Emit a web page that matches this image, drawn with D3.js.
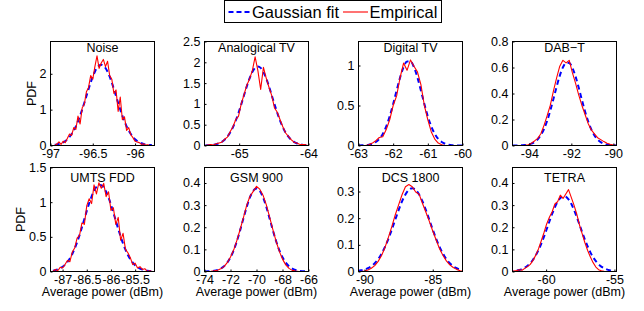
<!DOCTYPE html>
<html>
<head>
<meta charset="utf-8">
<script src="https://cdn.jsdelivr.net/npm/d3@7"></script>
<style>
  body { margin: 0; background: #fff; }
  svg { display: block; font-family: "Liberation Sans", Arial, Helvetica, sans-serif; }
</style>
</head>
<body>
<div id="chart"></div>
<script>
// panel titles, in reading order
const titles = ["Noise", "Analogical TV", "Digital TV", "DAB\u2212T", "UMTS FDD", "GSM 900", "DCS 1800", "TETRA"];

// axis limits and ticks
const xDomains = [[-97, -95.77], [-65.5, -64], [-63, -60], [-94.8, -89.85],
                  [-87.25, -85.1], [-74, -66], [-90.44, -82.82], [-62.46, -54.85]];
const yDomains = [[0, 2.9], [0, 2.5], [0, 1.3], [0, 0.8], [0, 1.5], [0, 0.47], [0, 0.39], [0, 0.47]];
const xTicks = [[-97, -96.5, -96], [-65, -64], [-63, -62, -61, -60], [-94, -92, -90],
                [-87, -86.5, -86, -85.5], [-74, -72, -70, -68, -66], [-90, -85], [-60, -55]];
const yTicks = [[0, 1, 2], [0, 0.5, 1, 1.5, 2, 2.5], [0, 0.5, 1], [0, 0.2, 0.4, 0.6, 0.8],
                [0, 0.5, 1, 1.5], [0, 0.1, 0.2, 0.3, 0.4], [0, 0.1, 0.2, 0.3], [0, 0.1, 0.2, 0.3, 0.4]];

// Noise
const noiseX = [-96.95,-96.925,-96.9,-96.875,-96.85,-96.825,-96.8,-96.775,-96.75,-96.725,-96.7,-96.675,-96.65,-96.625,-96.6,-96.575,-96.55,-96.525,-96.5,-96.475,-96.45,-96.425,-96.4,-96.375,-96.35,-96.325,-96.3,-96.275,-96.25,-96.225,-96.2,-96.175,-96.15,-96.125,-96.1,-96.075,-96.05,-96.025,-96,-95.975,-95.95,-95.925,-95.9,-95.875,-95.85,-95.825,-95.8];
const noiseFit = [0.018,0.028,0.042,0.062,0.089,0.126,0.175,0.239,0.319,0.417,0.535,0.673,0.83,1.003,1.189,1.381,1.571,1.754,1.918,2.057,2.162,2.228,2.25,2.228,2.162,2.057,1.918,1.754,1.571,1.381,1.189,1.003,0.83,0.673,0.535,0.417,0.319,0.239,0.175,0.126,0.089,0.062,0.042,0.028,0.018,0.012,0.007];
const noiseEmp = [0,0.04,0.1,0.03,0.12,0.08,0.2,0.32,0.28,0.5,0.45,0.82,0.6,1.05,1.15,1.5,1.62,1.95,1.85,2.2,2.5,2.15,2.3,2.4,2.2,2.35,1.95,1.85,1.45,1.55,0.95,1.35,0.72,0.8,0.42,0.5,0.3,0.22,0.12,0.1,0.08,0.03,0.05,0.01,0.02,0,0];

// Analogical TV
const anaX = [-65.49,-65.45,-65.41,-65.37,-65.33,-65.29,-65.25,-65.21,-65.17,-65.13,-65.09,-65.05,-65.01,-64.97,-64.93,-64.89,-64.85,-64.81,-64.77,-64.73,-64.69,-64.65,-64.61,-64.57,-64.53,-64.49,-64.45,-64.41,-64.37,-64.33,-64.29,-64.25,-64.21,-64.17,-64.13,-64.09,-64.05,-64.01];
const anaFit = [0.003,0.005,0.01,0.018,0.032,0.054,0.089,0.139,0.212,0.31,0.437,0.595,0.781,0.989,1.207,1.421,1.614,1.767,1.866,1.9,1.866,1.767,1.614,1.421,1.207,0.989,0.781,0.595,0.437,0.31,0.212,0.139,0.089,0.054,0.032,0.018,0.01,0.005];
const anaEmp = [0,0.01,0.02,0.01,0.04,0.06,0.08,0.15,0.2,0.33,0.45,0.62,0.7,1.0,1.22,1.45,1.6,1.8,2.13,1.8,1.35,1.88,1.62,1.4,1.2,0.9,0.8,0.62,0.45,0.3,0.22,0.14,0.08,0.06,0.03,0.02,0.02,0];

// Digital TV
const digX = [-63,-62.9,-62.8,-62.7,-62.6,-62.5,-62.4,-62.3,-62.2,-62.1,-62,-61.9,-61.8,-61.7,-61.6,-61.5,-61.4,-61.3,-61.2,-61.1,-61,-60.9,-60.8,-60.7,-60.6,-60.5,-60.4,-60.3,-60.2,-60.1,-60];
const digFit = [0.001,0.002,0.004,0.01,0.022,0.044,0.082,0.145,0.238,0.364,0.518,0.687,0.85,0.979,1.051,1.051,0.979,0.85,0.687,0.518,0.364,0.238,0.145,0.082,0.044,0.022,0.01,0.004,0.002,0.001,0.001];
const digEmp = [0,0,0,0.01,0.03,0.06,0.1,0.11,0.2,0.32,0.5,0.62,0.85,1.03,0.94,1.07,0.99,0.92,0.76,0.5,0.32,0.17,0.08,0.03,0.01,0,0,0,0,0,0];

// DAB-T
const dabX = [-94.8,-94.65,-94.5,-94.35,-94.2,-94.05,-93.9,-93.75,-93.6,-93.45,-93.3,-93.15,-93,-92.85,-92.7,-92.55,-92.4,-92.25,-92.1,-91.95,-91.8,-91.65,-91.5,-91.35,-91.2,-91.05,-90.9,-90.75,-90.6,-90.45,-90.3,-90.15,-90,-89.85];
const dabFit = [0.0001,0.0002,0.0006,0.0015,0.0033,0.0071,0.0142,0.0267,0.0477,0.0801,0.127,0.19,0.269,0.359,0.452,0.537,0.601,0.636,0.635,0.598,0.531,0.446,0.353,0.264,0.186,0.124,0.0776,0.046,0.0257,0.0135,0.0067,0.0032,0.0014,0.0006];
const dabEmp = [0,0,0,0,0.002,0.006,0.018,0.035,0.055,0.09,0.155,0.23,0.31,0.42,0.52,0.61,0.655,0.635,0.655,0.56,0.48,0.39,0.31,0.24,0.17,0.12,0.09,0.06,0.045,0.03,0.018,0.01,0.004,0];

// UMTS FDD
const umtsX = [-87.2,-87.15,-87.1,-87.05,-87,-86.95,-86.9,-86.85,-86.8,-86.75,-86.7,-86.65,-86.6,-86.55,-86.5,-86.45,-86.4,-86.35,-86.3,-86.25,-86.2,-86.15,-86.1,-86.05,-86,-85.95,-85.9,-85.85,-85.8,-85.75,-85.7,-85.65,-85.6,-85.55,-85.5,-85.45,-85.4,-85.35,-85.3,-85.25,-85.2,-85.15];
const umtsFit = [0.0123,0.0195,0.0303,0.0459,0.0679,0.0979,0.138,0.189,0.253,0.331,0.422,0.525,0.638,0.756,0.874,0.986,1.085,1.165,1.22,1.248,1.245,1.211,1.15,1.066,0.964,0.85,0.732,0.615,0.504,0.403,0.314,0.239,0.178,0.129,0.091,0.063,0.042,0.028,0.018,0.011,0.007,0.004];
const umtsEmp = [0,0.03,0.01,0.06,0.05,0.1,0.16,0.14,0.28,0.34,0.48,0.52,0.7,0.68,0.95,1.05,0.98,1.25,1.12,1.28,1.2,1.27,1.08,1.15,0.88,0.92,0.68,0.78,0.45,0.55,0.32,0.27,0.2,0.1,0.12,0.05,0.07,0.03,0.04,0,0.01,0];

// GSM 900
const gsmX = [-74,-73.75,-73.5,-73.25,-73,-72.75,-72.5,-72.25,-72,-71.75,-71.5,-71.25,-71,-70.75,-70.5,-70.25,-70,-69.75,-69.5,-69.25,-69,-68.75,-68.5,-68.25,-68,-67.75,-67.5,-67.25,-67,-66.75,-66.5,-66.25,-66];
const gsmFit = [0.0003,0.0008,0.0017,0.0035,0.007,0.0133,0.0237,0.0401,0.0641,0.0969,0.1388,0.1881,0.2411,0.2925,0.3358,0.3648,0.375,0.3648,0.3358,0.2925,0.2411,0.1881,0.1388,0.0969,0.0641,0.0401,0.0237,0.0133,0.007,0.0035,0.0017,0.0008,0.0003];
const gsmEmp = [0,0,0.001,0.003,0.006,0.012,0.022,0.04,0.066,0.098,0.142,0.192,0.245,0.3,0.34,0.362,0.385,0.372,0.345,0.302,0.248,0.192,0.138,0.092,0.056,0.03,0.014,0.005,0.002,0,0,0,0];

// DCS 1800
const dcsX = [-90.5,-90.25,-90,-89.75,-89.5,-89.25,-89,-88.75,-88.5,-88.25,-88,-87.75,-87.5,-87.25,-87,-86.75,-86.5,-86.25,-86,-85.75,-85.5,-85.25,-85,-84.75,-84.5,-84.25,-84,-83.75,-83.5,-83.25,-83,-82.75];
const dcsFit = [0.0024,0.0043,0.0074,0.0124,0.02,0.031,0.0463,0.0666,0.0921,0.1226,0.157,0.1937,0.2299,0.2628,0.2891,0.3061,0.312,0.3061,0.2891,0.2628,0.2299,0.1937,0.157,0.1226,0.0921,0.0666,0.0463,0.031,0.02,0.0124,0.0074,0.0043];
const dcsEmp = [0,0,0.002,0.006,0.012,0.022,0.038,0.06,0.09,0.128,0.168,0.212,0.25,0.288,0.318,0.326,0.318,0.298,0.29,0.255,0.222,0.188,0.152,0.118,0.085,0.06,0.04,0.025,0.015,0.008,0.003,0];

// TETRA
const tetraX = [-62.76,-62.56,-62.36,-62.16,-61.96,-61.76,-61.56,-61.36,-61.16,-60.96,-60.76,-60.56,-60.36,-60.16,-59.96,-59.76,-59.56,-59.36,-59.16,-58.96,-58.76,-58.56,-58.36,-58.16,-57.96,-57.76,-57.56,-57.36,-57.16,-56.96,-56.76,-56.56,-56.36,-56.16,-55.96,-55.76,-55.56,-55.36,-55.16];
const tetraFit = [0.0009,0.0015,0.0026,0.0044,0.0071,0.0113,0.0174,0.026,0.0377,0.0531,0.0727,0.0967,0.1249,0.1567,0.1909,0.226,0.2599,0.2902,0.3149,0.3317,0.3396,0.3376,0.326,0.3058,0.2787,0.2466,0.212,0.177,0.1436,0.1132,0.0866,0.0644,0.0465,0.0326,0.0222,0.0147,0.0095,0.0059,0.0036];
const tetraEmp = [0,0,0.002,0.004,0.008,0.006,0.014,0.022,0.032,0.05,0.074,0.102,0.138,0.175,0.215,0.245,0.27,0.305,0.315,0.345,0.33,0.35,0.37,0.335,0.3,0.26,0.21,0.17,0.13,0.095,0.065,0.04,0.02,0.008,0.003,0.001,0,0,0];

const xs = [noiseX, anaX, digX, dabX, umtsX, gsmX, dcsX, tetraX];
const fits = [noiseFit, anaFit, digFit, dabFit, umtsFit, gsmFit, dcsFit, tetraFit];
const emps = [noiseEmp, anaEmp, digEmp, dabEmp, umtsEmp, gsmEmp, dcsEmp, tetraEmp];

// layout
const W = 644, H = 311;
const colLeft = [50.5, 204.5, 358.5, 512.5];
const rowTop = [41.5, 167.5];
const pw = 104, ph = 104;
const titleBase = [51.5, 181.5];
const fontSize = 12.5;

const svg = d3.select("#chart").append("svg")
    .attr("width", W)
    .attr("height", H);

svg.append("rect").attr("width", W).attr("height", H).attr("fill", "#fff");

const fmt = v => String(v);

titles.forEach((title, p) => {
    const col = p % 4, row = Math.floor(p / 4);
    const g = svg.append("g")
        .attr("transform", `translate(${colLeft[col]},${rowTop[row]})`);

    const x = d3.scaleLinear().domain(xDomains[p]).range([0, pw]);
    const y = d3.scaleLinear().domain(yDomains[p]).range([ph, 0]);

    // clip curves to the box
    g.append("clipPath").attr("id", "clip" + p)
        .append("rect").attr("width", pw).attr("height", ph);

    const pts = (ys) => xs[p].map((xv, i) => [xv, ys[i]]);

    const fitLine = d3.line()
        .x(d => x(d[0]))
        .y(d => y(d[1]))
        .curve(d3.curveMonotoneX);
    const empLine = d3.line()
        .x(d => x(d[0]))
        .y(d => y(d[1]));

    const curves = g.append("g").attr("clip-path", `url(#clip${p})`);
    curves.append("path")
        .attr("d", fitLine(pts(fits[p])))
        .attr("fill", "none")
        .attr("stroke", "#0000ff")
        .attr("stroke-width", 2)
        .attr("stroke-dasharray", "5,3.5");
    curves.append("path")
        .attr("d", empLine(pts(emps[p])))
        .attr("fill", "none")
        .attr("stroke", "#ff0000")
        .attr("stroke-width", 1.1)
        .attr("stroke-linejoin", "round");

    // axes
    const ax = g.append("g")
        .attr("transform", `translate(0,${ph})`)
        .call(d3.axisBottom(x).tickValues(xTicks[p]).tickFormat(fmt)
            .tickSizeInner(-2).tickSizeOuter(0).tickPadding(4));
    const ay = g.append("g")
        .call(d3.axisLeft(y).tickValues(yTicks[p]).tickFormat(fmt)
            .tickSizeInner(-2).tickSizeOuter(0).tickPadding(4));
    [ax, ay].forEach(a => {
        a.select(".domain").remove();
        a.selectAll("text").attr("fill", "#000")
            .style("font-size", fontSize + "px")
            .style("font-family", "\"Liberation Sans\", Arial, sans-serif");
        a.selectAll("line").attr("stroke", "#000");
    });

    // box
    g.append("rect")
        .attr("width", pw).attr("height", ph)
        .attr("fill", "none").attr("stroke", "#000").attr("stroke-width", 1);

    // title inside the box
    svg.append("text")
        .attr("x", colLeft[col] + pw / 2)
        .attr("y", titleBase[row])
        .attr("text-anchor", "middle")
        .style("font-size", fontSize + "px")
        .text(title);

    if (row === 1) {
        svg.append("text")
            .attr("x", colLeft[col] + pw / 2)
            .attr("y", 296)
            .attr("text-anchor", "middle")
            .style("font-size", fontSize + "px")
            .text("Average power (dBm)");
    }
});

// y labels
[[36, rowTop[0] + ph / 2], [24.5, rowTop[1] + ph / 2]].forEach(([lx, ly]) => {
    svg.append("text")
        .attr("transform", `translate(${lx},${ly}) rotate(-90)`)
        .attr("text-anchor", "middle")
        .style("font-size", fontSize + "px")
        .text("PDF");
});

// legend
const leg = svg.append("g");
leg.append("rect")
    .attr("x", 224.5).attr("y", 0.5).attr("width", 217).attr("height", 22)
    .attr("fill", "#fff").attr("stroke", "#000").attr("stroke-width", 1);
leg.append("line")
    .attr("x1", 228.5).attr("x2", 250.5).attr("y1", 12).attr("y2", 12)
    .attr("stroke", "#0000ff").attr("stroke-width", 2).attr("stroke-dasharray", "5,3");
leg.append("text")
    .attr("x", 252).attr("y", 17.5)
    .style("font-size", "16.5px")
    .text("Gaussian fit");
leg.append("line")
    .attr("x1", 343).attr("x2", 368).attr("y1", 12).attr("y2", 12)
    .attr("stroke", "#ff0000").attr("stroke-width", 1.1);
leg.append("text")
    .attr("x", 369.5).attr("y", 17.5)
    .style("font-size", "16.5px")
    .text("Empirical");
</script>
</body>
</html>
